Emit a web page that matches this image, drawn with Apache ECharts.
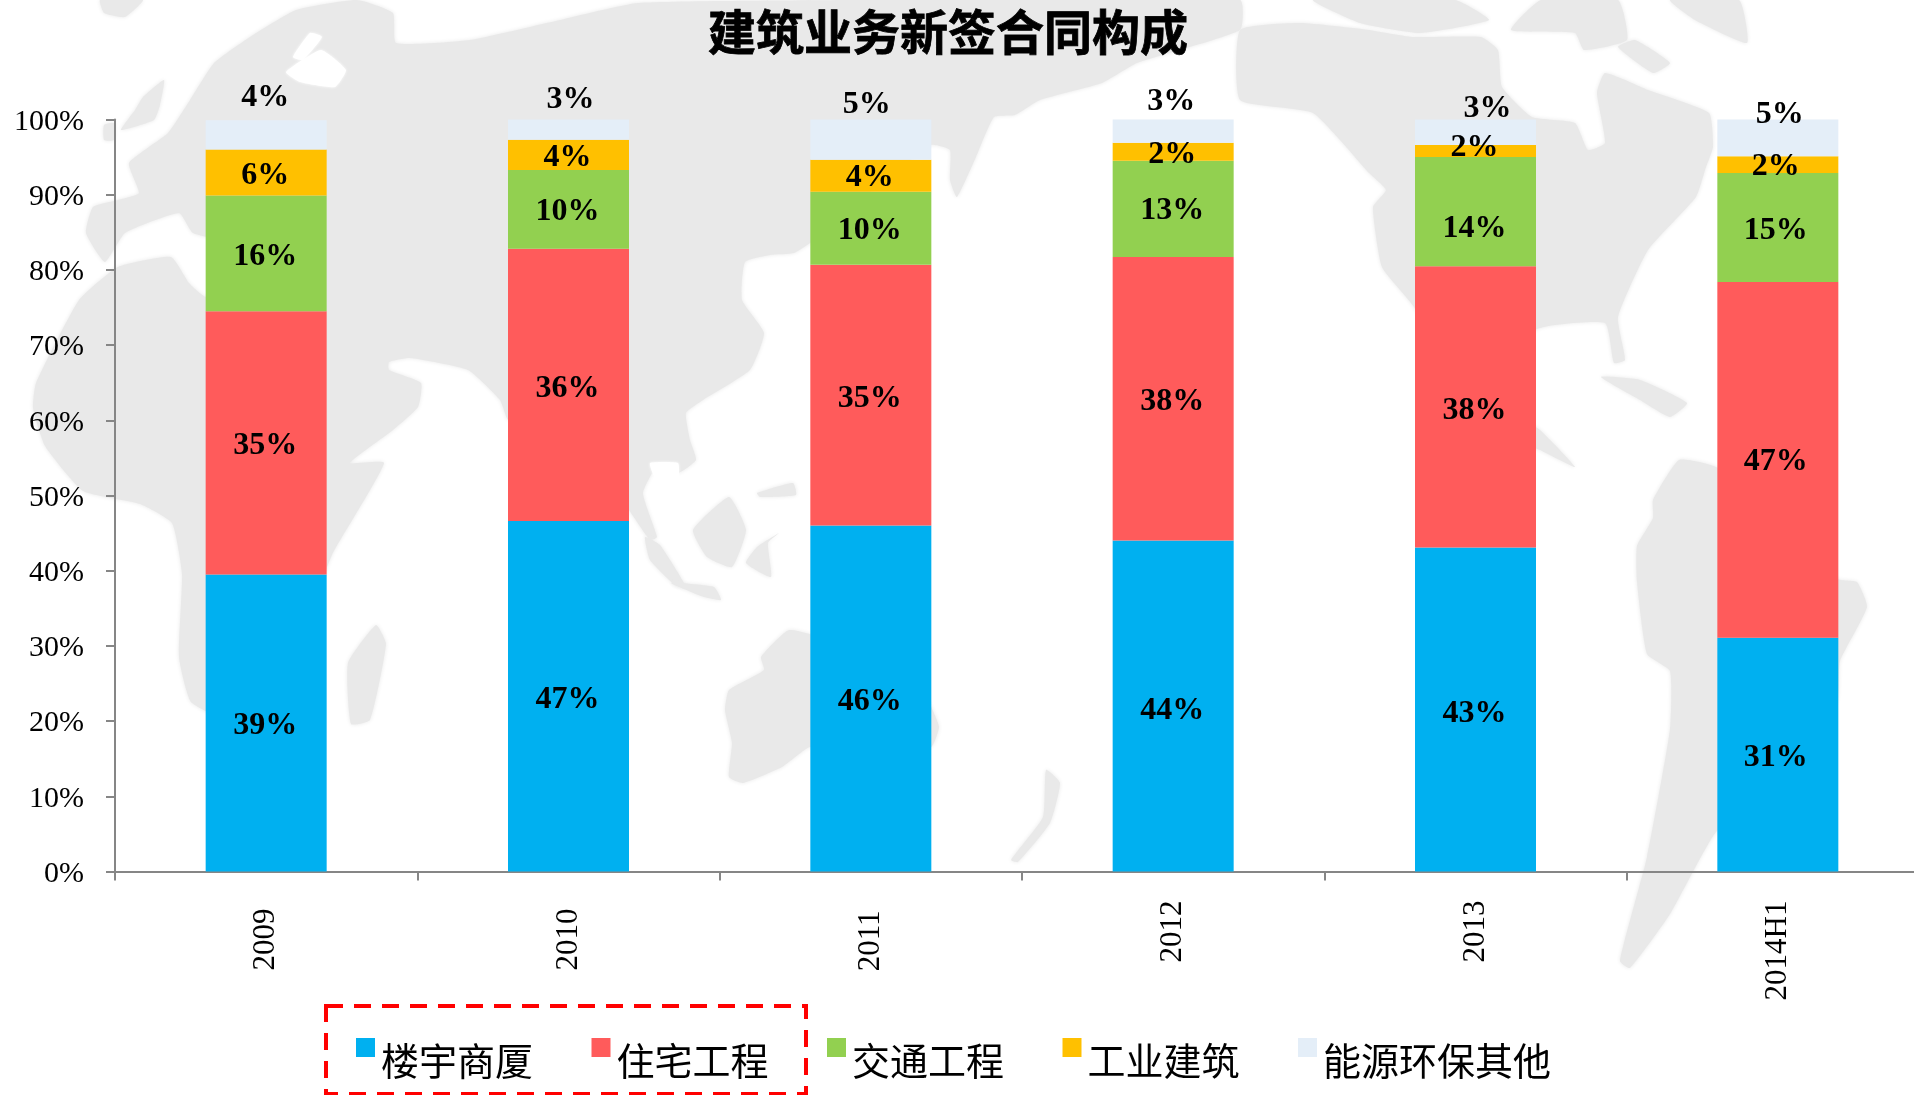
<!DOCTYPE html>
<html><head><meta charset="utf-8">
<style>html,body{margin:0;padding:0;background:#fff}#c{width:1914px;height:1095px}</style>
<script src="https://cdn.jsdelivr.net/npm/echarts@6/dist/echarts.min.js"></script>
</head><body><div id="c"></div>
<script>
const chartTitle = '建筑业务新签合同构成';
const categories = ['2009','2010','2011','2012','2013','2014H1'];
const seriesNames = ['楼宇商厦','住宅工程','交通工程','工业建筑','能源环保其他'];
const loudyu  = [39.5,46.6,46.0,44.0,43.1,31.1];
const zhuzhai = [35.0,36.2,34.7,37.7,37.4,47.3];
const jiaotong= [15.4,10.5,9.7,12.8,14.5,14.5];
const gongye  = [6.1,4.0,4.25,2.4,1.6,2.2];
const nengyuan= [3.9,2.7,5.35,3.1,3.4,4.9];
const loudyuText  = ['39%','47%','46%','44%','43%','31%'];
const zhuzhaiText = ['35%','36%','35%','38%','38%','47%'];
const jiaotongText= ['16%','10%','10%','13%','14%','15%'];
const gongyeText  = ['6%','4%','4%','2%','2%','2%'];
const nengyuanText= ['4%','3%','5%','3%','3%','5%'];
const colors = ['#00B0F0','#FF5B5B','#92D050','#FFC000','#E4EEF8'];

// hand placed labels of the original slide: [dx, dy] from the segment centre
const nudgeA = [[-1,3],[-1,3],[-1,3],[-1,5],[-1,4],[-2,3]];
const nudgeB = [[-1,3],[-1,4],[-1,4],[-1,3],[-1,4],[-2,2]];
const nudgeC = [[-1,3],[-1,2],[-1,3],[-1,2],[-1,17],[-2,3]];
const nudgeD = [[-1,3],[-1,3],[-1,2],[-1,3],[-1,-3],[-2,2]];
const nudgeE = [[-1,-37],[2,-30],[-4,-35],[-2,-29],[12,-24],[2,-23]];
const axisLabelPush = [8,8,10,0,0,0];

// pale world map backdrop (decoration), outlines
const mapLand = [
 // Eurasia and Africa
 [[214,63],[250,37],[296,10],[357,0],[393,13],[396,43],[470,40],[560,20],[638,3],[860,0],[1240,0],[1240,30],[1137,63],[1102,83],[1040,100],[1015,115],[994,117],[976,157],[957,197],[950,180],[950,150],[931,145],[860,200],[810,243],[794,253],[770,255],[745,262],[742,300],[764,333],[750,370],[703,400],[686,413],[690,440],[696,460],[678,473],[660,462],[643,493],[657,537],[650,540],[629,510],[600,470],[575,520],[545,470],[520,420],[508,420],[500,400],[468,370],[410,358],[389,362],[389,370],[421,383],[418,407],[393,430],[350,463],[384,463],[332,555],[300,638],[268,695],[230,720],[191,702],[179,657],[182,574],[172,523],[140,504],[83,491],[45,446],[33,408],[36,383],[79,300],[118,267],[171,257],[189,283],[206,297],[260,290],[290,260],[270,215],[230,240],[193,233],[179,213],[125,233],[105,262],[86,233],[93,207],[118,200],[139,193],[129,163],[168,133],[190,100]],
 // Britain, Ireland, Iceland
 [[143,97],[164,80],[160,105],[154,120],[121,130],[135,110]],
 [[104,125],[114,123],[114,140],[104,140]],
 [[100,0],[143,0],[125,17],[104,13]],
 // Madagascar
 [[348,663],[376,625],[386,644],[370,720],[351,724]],
 // Australia
 [[729,690],[764,670],[761,657],[789,630],[830,640],[900,660],[931,707],[939,727],[931,747],[860,750],[810,747],[782,767],[743,783],[729,777],[732,743],[725,710]],
 // Indonesia and the Philippines
 [[693,530],[729,497],[746,530],[732,567],[707,557]],
 [[746,563],[757,547],[779,533],[768,543],[771,577]],
 [[645,537],[660,545],[686,587],[675,585],[650,560]],
 [[671,583],[714,587],[721,600],[704,597]],
 [[757,493],[793,483],[796,495],[760,497]],
 // New Zealand
 [[1011,860],[1043,817],[1046,770],[1060,783],[1050,823],[1018,862]],
 // North America
 [[1240,30],[1300,23],[1369,30],[1412,37],[1481,37],[1498,50],[1502,87],[1532,117],[1575,123],[1588,150],[1605,143],[1597,93],[1605,73],[1648,90],[1709,113],[1713,147],[1706,167],[1696,197],[1648,250],[1618,317],[1625,360],[1614,363],[1605,323],[1535,330],[1500,400],[1540,430],[1575,467],[1540,450],[1470,420],[1414,307],[1382,267],[1373,207],[1386,190],[1369,173],[1313,113],[1240,100]],
 [[1313,0],[1455,0],[1489,20],[1420,33],[1360,23]],
 [[1511,30],[1541,0],[1618,0],[1627,40],[1584,50],[1575,33]],
 [[1670,0],[1739,0],[1747,43],[1695,20]],
 [[1618,47],[1653,73],[1670,63],[1635,40]],
 // Caribbean
 [[1601,377],[1640,380],[1687,403],[1670,417],[1640,400]],
 // South America
 [[1653,500],[1679,460],[1716,467],[1790,520],[1837,579],[1857,582],[1867,607],[1840,661],[1837,700],[1790,770],[1716,832],[1670,914],[1630,968],[1620,961],[1647,857],[1670,729],[1670,671],[1647,654],[1637,582],[1637,546],[1653,518]]
];
const mapHoles = [
 // Baltic and White Sea
 [[286,72],[321,50],[346,70],[335,87],[300,82]],
 [[293,57],[310,33],[322,37],[303,60]],
 // Tonkin gulf
 [[650,463],[678,463],[678,478],[655,477]]
];
const mapColor = '#e9e9e9';

function makeSeries(i, values, texts, nudges) {
  return {
    name: seriesNames[i], type: 'bar', stack: 'total', barWidth: 121,
    itemStyle: { color: colors[i] },
    data: values.map((v, k) => ({
      value: v,
      label: { show: true, position: 'inside', formatter: texts[k], offset: nudges[k],
               color: '#000', fontFamily: '"Liberation Serif"', fontWeight: 'bold', fontSize: 32 }
    }))
  };
}

const chart = echarts.init(document.getElementById('c'), null, { renderer: 'canvas' });
chart.setOption({
  animation: false,
  backgroundColor: '#fff',
  title: { text: chartTitle, left: 943, top: 3, textAlign: 'center',
    textStyle: { fontFamily: '"Noto Sans CJK SC"', fontWeight: 'bold', fontSize: 48, color: '#000',
                 textBorderColor: '#000', textBorderWidth: 0.8 } },
  legend: {
    left: 356, top: 1038, itemWidth: 19, itemHeight: 19, itemGap: 58.5, icon: 'rect',
    selectedMode: false, padding: 0,
    data: seriesNames,
    formatter: name => '{t|' + name + '}',
    textStyle: { rich: { t: { fontFamily: '"Noto Sans CJK SC"', fontSize: 38, color: '#000', padding: [26,0,0,1] } } }
  },
  grid: { left: 115, top: 119.5, width: 1814, height: 752, containLabel: false, outerBoundsMode: 'none' },
  xAxis: {
    type: 'category',
    data: categories.map((c, i) => ({ value: c, textStyle: { padding: [4, axisLabelPush[i], 0, 0] } })),
    axisTick: { show: true, alignWithLabel: false, length: 9, lineStyle: { color: '#868686', width: 2 } },
    axisLine: { lineStyle: { color: '#868686', width: 2 } },
    axisLabel: { interval: 0, rotate: 90, margin: 29, fontFamily: '"Liberation Serif"', fontSize: 31, color: '#000' }
  },
  yAxis: {
    type: 'value', min: 0, max: 100, interval: 10,
    splitLine: { show: false },
    axisLine: { show: true, lineStyle: { color: '#868686', width: 2 } },
    axisTick: { show: true, length: 9, lineStyle: { color: '#868686', width: 2 } },
    axisLabel: { formatter: '{t|{value}%}', margin: 31,
      rich: { t: { fontFamily: '"Liberation Serif"', fontSize: 30, color: '#000', padding: [5,0,0,0] } } }
  },
  graphic: [
    ...mapLand.map(pts => ({ type: 'polygon', silent: true, z: -10, shape: { points: pts, smooth: 0.15 },
        style: { fill: mapColor, shadowBlur: 4, shadowColor: mapColor } })),
    ...mapHoles.map(pts => ({ type: 'polygon', silent: true, z: -9, shape: { points: pts, smooth: 0.15 },
        style: { fill: '#fff', shadowBlur: 3, shadowColor: '#fff' } })),
    { type: 'rect', silent: true, z: 5, shape: { x: 326, y: 1006, width: 480, height: 88 },
      style: { fill: 'transparent', stroke: '#ff0000', lineWidth: 4, lineDash: [17, 11] } }
  ],
  series: [
    makeSeries(0, loudyu, loudyuText, nudgeA),
    makeSeries(1, zhuzhai, zhuzhaiText, nudgeB),
    makeSeries(2, jiaotong, jiaotongText, nudgeC),
    makeSeries(3, gongye, gongyeText, nudgeD),
    makeSeries(4, nengyuan, nengyuanText, nudgeE)
  ]
});
</script></body></html>
